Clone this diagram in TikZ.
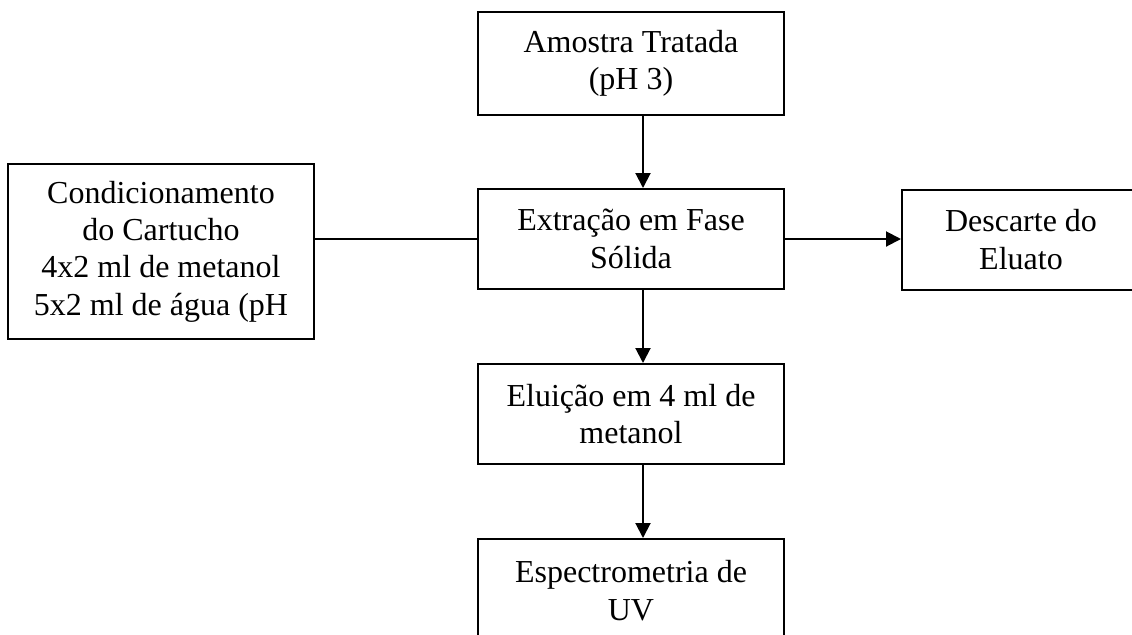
\documentclass[tikz,border=0pt]{standalone}
\usepackage{fontspec}
\setmainfont{Liberation Serif}
\usetikzlibrary{arrows.meta}

\begin{document}
\begin{tikzpicture}[
            x=0.5pt, y=-0.5pt,
            stage/.style={rectangle, draw=black, line width=1pt, align=center, inner sep=0pt,
                minimum width=153pt, minimum height=50pt, font=\fontsize{16}{18.7}\selectfont},
            flow/.style={line width=1pt},
            >={Triangle[length=7.5pt, width=7.5pt]}
        ]
        \useasboundingbox (0,0) rectangle (1132,634);
        % Central column
        \node[stage, minimum height=51.5pt] (amostra) at (631,63.5) {Amostra Tratada\\(pH 3)};
        \node[stage] (extracao) at (631,239) {Extração em Fase\\Sólida};
        \node[stage] (eluicao) at (631,414) {Eluição em 4 ml de\\metanol};
        \node[stage, minimum height=51.5pt] (espectro) at (631,590.5) {Espectrometria de\\UV};
        
        % Side boxes
        \node[stage, minimum height=87.5pt] (cartucho) at (161,251.5) {Condicionamento\\do Cartucho\\4x2 ml de metanol\\5x2 ml de água (pH};
        \node[stage, minimum width=119pt] (descarte) at (1021,239.5) {Descarte do\\Eluato};
        
        % Connections
        \draw[flow, ->] ([xshift=6pt]amostra.south) -- ([xshift=6pt]extracao.north);
        \draw[flow] (cartucho.east |- extracao.west) -- (extracao.west);
        \draw[flow, ->] (extracao.east) -- (extracao.east -| descarte.west);
        \draw[flow, ->] ([xshift=6pt]extracao.south) -- ([xshift=6pt]eluicao.north);
        \draw[flow, ->] ([xshift=6pt]eluicao.south) -- ([xshift=6pt]espectro.north);
        \end{tikzpicture}
\end{document}
